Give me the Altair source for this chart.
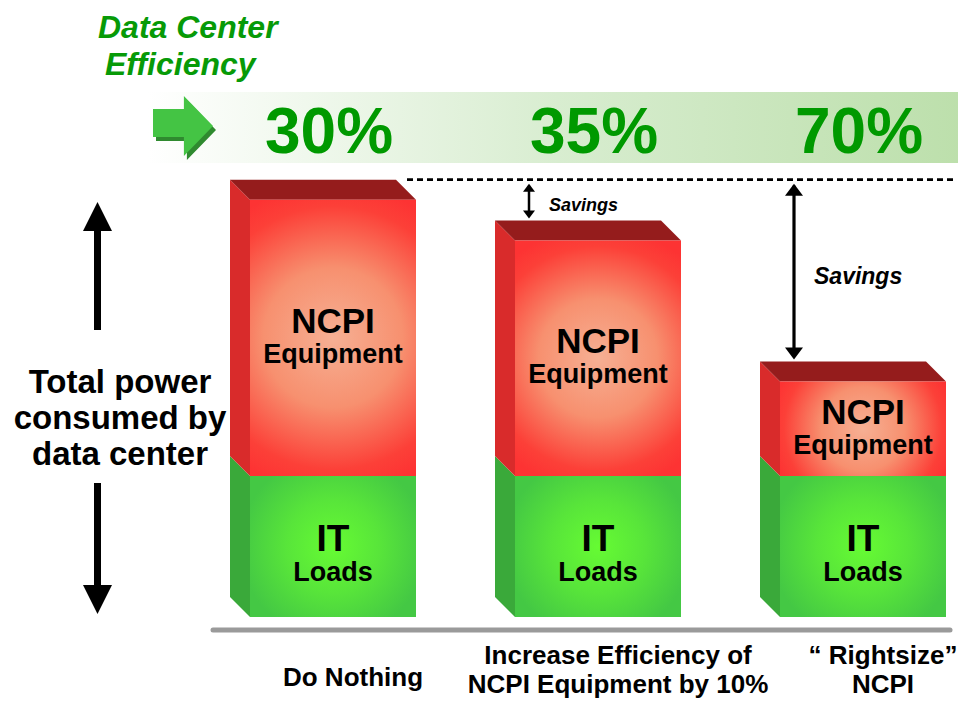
import altair as alt
import pandas as pd

# ---------------- data ----------------
categories = ["Do Nothing", "Increase Efficiency of\nNCPI Equipment by 10%", "\u201c Rightsize\u201d\nNCPI"]
efficiency = ["30%", "35%", "70%"]
it_loads = [100, 100, 100]
ncpi_equipment = [196, 167, 67]
segments = ["IT", "NCPI"]
seg_line1 = {"IT": "IT", "NCPI": "NCPI"}
seg_line2 = {"IT": "Loads", "NCPI": "Equipment"}
title_lines = ["Data Center", "Efficiency"]
y_title = "Total power\nconsumed by\ndata center"
savings_text = "Savings"

# ---------------- geometry helpers ----------------
PX_X = 265.0          # pixels per category step
PX_Y = 1.41           # pixels per power unit
HW = 83 / PX_X        # half bar width
DX = 20 / PX_X        # 3-D depth (x)
DY = 20 / PX_Y        # 3-D depth (y)

FONT = "Liberation Sans"
GREEN_TXT = "#079a07"

xs = alt.Scale(domain=[0, 2], range=[325, 855], nice=False, zero=False)
ys = alt.Scale(domain=[0, 400], range=[609, 45], nice=False, zero=False)

front_rows, side_rows, top_rows = [], [], []
for i in range(3):
    bounds = {"IT": (0, it_loads[i]), "NCPI": (it_loads[i], it_loads[i] + ncpi_equipment[i])}
    for s in segments:
        lo, hi = bounds[s]
        front_rows.append(dict(idx=i, seg=s, x0=i - HW, x1=i + HW, y0=lo, y1=hi,
                               mid=(lo + hi) / 2, l1=seg_line1[s], l2=seg_line2[s],
                               dash_x=i + HW - 9 / PX_X, dash_y=hi + DY))
        key = f"{i}-{s}"
        side_rows.append(dict(key=key, seg=s, x=i - HW - DX, top=hi + DY, bot=lo + DY))
        side_rows.append(dict(key=key, seg=s, x=i - HW, top=hi, bot=lo))
    t = it_loads[i] + ncpi_equipment[i]
    top_rows.append(dict(idx=i, y=t, xl=i - HW, xr=i + HW))
    top_rows.append(dict(idx=i, y=t + DY, xl=i - HW - DX, xr=i + HW - DX))

front = pd.DataFrame(front_rows)
side = pd.DataFrame(side_rows)
topf = pd.DataFrame(top_rows)
front_it = front[front.seg == "IT"]
front_nc = front[front.seg == "NCPI"]

cat_df = pd.DataFrame({"idx": [0, 1, 2], "cat": categories, "eff": efficiency})
# vertically centre multi-line category labels (first-line baseline, pixels)
cat_df["ty"] = [678 - (c.count("\n")) * 22 for c in categories]

# savings arrows
ref_top = it_loads[0] + ncpi_equipment[0] + DY
sav_rows = []
head_w = {1: 12, 2: 18}
stroke_w = {1: 2.5, 2: 3.2}
txt_size = {1: 18, 2: 23}
for i in (1, 2):
    tgt = it_loads[i] + ncpi_equipment[i] + DY
    h = head_w[i] * 0.67
    sav_rows.append(dict(
        idx=i, ax=i - HW + 14 / PX_X,
        r0=ref_top - 6 / PX_Y, r1=tgt + 6 / PX_Y,
        htop=ref_top - (4 + h / 2) / PX_Y, hbot=tgt + (2 + h / 2) / PX_Y,
        hs=head_w[i] ** 2, sw=stroke_w[i], ts=txt_size[i],
        ty=(ref_top + tgt) / 2 - 6 / PX_Y, label=savings_text))
sav = pd.DataFrame(sav_rows)
one = pd.DataFrame({"k": [0]})

band_grad = alt.LinearGradient(
    gradient="linear", x1=0, y1=0, x2=1, y2=0,
    stops=[alt.GradientStop(offset=0, color="#ffffff"),
           alt.GradientStop(offset=0.5, color="#d8edd0"),
           alt.GradientStop(offset=1, color="#bcdfab")])
red_grad = alt.RadialGradient(
    gradient="radial", x1=0.5, y1=0.5, r1=0, x2=0.5, y2=0.5, r2=0.56,
    stops=[alt.GradientStop(offset=0, color="#f6b094"),
           alt.GradientStop(offset=0.45, color="#f7906f"),
           alt.GradientStop(offset=0.85, color="#fc4038"),
           alt.GradientStop(offset=1, color="#fd3333")])
green_grad = alt.RadialGradient(
    gradient="radial", x1=0.5, y1=0.5, r1=0, x2=0.5, y2=0.5, r2=0.56,
    stops=[alt.GradientStop(offset=0, color="#66fb33"),
           alt.GradientStop(offset=0.5, color="#58e53a"),
           alt.GradientStop(offset=1, color="#44c844")])

X = lambda f: alt.X(f, scale=xs, axis=None)
Y = lambda f: alt.Y(f, scale=ys, axis=None)

layers = []

# header band
layers.append(alt.Chart(one).mark_rect(color=band_grad).encode(
    x=alt.value(140), x2=alt.value(958), y=alt.value(84), y2=alt.value(155)))
# green block arrow (shadow + body)
ARROW = "M-1,-0.57L0.03,-0.57L0.03,-1L1,0L0.03,1L0.03,0.37L-1,0.37Z"
layers.append(alt.Chart(one).mark_point(shape=ARROW, size=3600, filled=True, color="#2f8a2f",
                                        opacity=1, strokeWidth=0).encode(
    x=alt.value(178), y=alt.value(122)))
layers.append(alt.Chart(one).mark_point(shape=ARROW, size=3600, filled=True, color="#44c444",
                                        opacity=1, strokeWidth=0).encode(
    x=alt.value(175), y=alt.value(118)))
# efficiency percents
layers.append(alt.Chart(cat_df).mark_text(font=FONT, fontWeight="bold", fontSize=64,
                                          color="#009900", baseline="alphabetic", dx=-4).encode(
    x=X("idx:Q"), y=alt.value(145), text="eff:N"))
# title
layers.append(alt.Chart(one).mark_text(font=FONT, fontWeight="bold", fontStyle="italic", fontSize=32,
                                       color=GREEN_TXT, align="left", baseline="alphabetic").encode(
    x=alt.value(90), y=alt.value(30), text=alt.value(title_lines[0])))
layers.append(alt.Chart(one).mark_text(font=FONT, fontWeight="bold", fontStyle="italic", fontSize=32,
                                       color=GREEN_TXT, align="left", baseline="alphabetic").encode(
    x=alt.value(97), y=alt.value(67), text=alt.value(title_lines[1])))
# left axis arrows and label
layers.append(alt.Chart(one).mark_rule(color="black", strokeWidth=7).encode(
    x=alt.value(89.5), y=alt.value(220), y2=alt.value(322)))
layers.append(alt.Chart(one).mark_rule(color="black", strokeWidth=7).encode(
    x=alt.value(89.5), y=alt.value(475), y2=alt.value(579)))
layers.append(alt.Chart(one).mark_point(shape="M0,-1L1,1L-1,1Z", size=841, filled=True, color="black",
                                        opacity=1, strokeWidth=0).encode(
    x=alt.value(89.5), y=alt.value(208.5)))
layers.append(alt.Chart(one).mark_point(shape="M0,1L1,-1L-1,-1Z", size=841, filled=True, color="black",
                                        opacity=1, strokeWidth=0).encode(
    x=alt.value(89.5), y=alt.value(591.5)))
layers.append(alt.Chart(one).mark_text(font=FONT, fontWeight="bold", fontSize=33, color="black",
                                       lineBreak="\n", lineHeight=36, baseline="alphabetic").encode(
    x=alt.value(112), y=alt.value(385), text=alt.value(y_title)))

# dashed reference line at top of first bar
layers.append(alt.Chart(front_nc[front_nc.idx == 0]).mark_rule(
    color="black", strokeWidth=2.6, strokeDash=[6, 4]).encode(
    x=X("dash_x:Q"), x2=alt.value(945), y=Y("dash_y:Q")))

# 3-D side faces
layers.append(alt.Chart(side).mark_area(orient="vertical", opacity=1, interpolate="linear").encode(
    x=X("x:Q"), y=alt.Y("top:Q", scale=ys, axis=None, stack=None), y2="bot:Q",
    detail="key:N",
    color=alt.Color("seg:N", scale=alt.Scale(domain=["IT", "NCPI"], range=["#3aa93a", "#d92b2b"]),
                    legend=None)))
# 3-D top faces
layers.append(alt.Chart(topf).mark_area(orient="horizontal", opacity=1, color="#951c1c").encode(
    y=alt.Y("y:Q", scale=ys, axis=None, stack=None), x=X("xl:Q"), x2="xr:Q", detail="idx:N"))
# front faces
layers.append(alt.Chart(front_nc).mark_rect(color=red_grad).encode(
    x=X("x0:Q"), x2="x1:Q", y=Y("y1:Q"), y2="y0:Q"))
layers.append(alt.Chart(front_it).mark_rect(color=green_grad).encode(
    x=X("x0:Q"), x2="x1:Q", y=Y("y1:Q"), y2="y0:Q"))

# labels inside bars
layers.append(alt.Chart(front_nc).mark_text(font=FONT, fontWeight="bold", fontSize=35, color="black",
                                            baseline="alphabetic", dy=-5).encode(
    x=X("idx:Q"), y=Y("mid:Q"), text="l1:N"))
layers.append(alt.Chart(front_nc).mark_text(font=FONT, fontWeight="bold", fontSize=27, color="black",
                                            baseline="alphabetic", dy=25).encode(
    x=X("idx:Q"), y=Y("mid:Q"), text="l2:N"))
layers.append(alt.Chart(front_it).mark_text(font=FONT, fontWeight="bold", fontSize=37, color="black",
                                            baseline="alphabetic", dy=4).encode(
    x=X("idx:Q"), y=Y("mid:Q"), text="l1:N"))
layers.append(alt.Chart(front_it).mark_text(font=FONT, fontWeight="bold", fontSize=27, color="black",
                                            baseline="alphabetic", dy=34).encode(
    x=X("idx:Q"), y=Y("mid:Q"), text="l2:N"))

# savings arrows
layers.append(alt.Chart(sav).mark_rule(color="black").encode(
    x=X("ax:Q"), y=Y("r0:Q"), y2="r1:Q", strokeWidth=alt.StrokeWidth("sw:Q", scale=None)))
layers.append(alt.Chart(sav).mark_point(shape="M0,-0.67L1,0.67L-1,0.67Z", filled=True, color="black",
                                        opacity=1, strokeWidth=0).encode(
    x=X("ax:Q"), y=Y("htop:Q"), size=alt.Size("hs:Q", scale=None)))
layers.append(alt.Chart(sav).mark_point(shape="M0,0.67L1,-0.67L-1,-0.67Z", filled=True, color="black",
                                        opacity=1, strokeWidth=0).encode(
    x=X("ax:Q"), y=Y("hbot:Q"), size=alt.Size("hs:Q", scale=None)))
layers.append(alt.Chart(sav).mark_text(font=FONT, fontWeight="bold", fontStyle="italic", color="black",
                                       align="left", baseline="middle", dx=20).encode(
    x=X("ax:Q"), y=Y("ty:Q"), text="label:N", size=alt.Size("ts:Q", scale=None)))

# gray baseline
layers.append(alt.Chart(one).mark_rule(color="#9a9a9a", strokeWidth=5, strokeCap="round").encode(
    x=alt.value(205), x2=alt.value(942), y=alt.value(622)))

# category labels
layers.append(alt.Chart(cat_df).mark_text(font=FONT, fontWeight="bold", fontSize=26, color="black",
                                          lineBreak="\n", lineHeight=29, baseline="alphabetic",
                                          dx=20).encode(
    x=X("idx:Q"), y=alt.Y("ty:Q", scale=None, axis=None), text="cat:N"))

chart = alt.layer(*layers).properties(
    width=950, height=692, padding=0, background="white",
    autosize=alt.AutoSizeParams(type="none"),
).configure_view(stroke=None)

chart.save("out.html", embed_options={"renderer": "svg", "actions": False})
